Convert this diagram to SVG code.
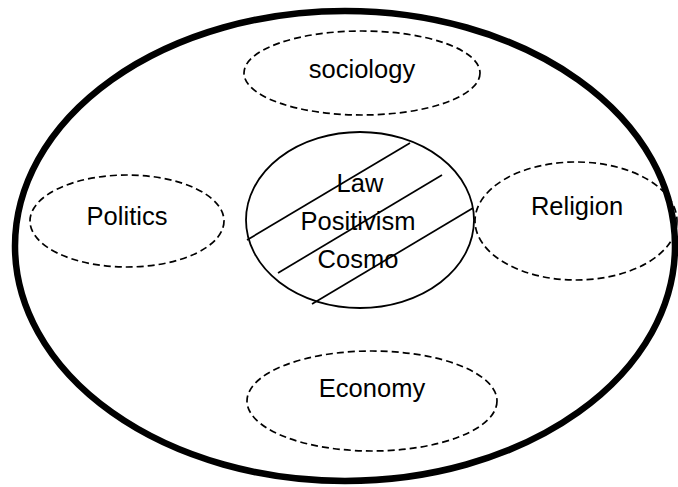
<svg xmlns="http://www.w3.org/2000/svg" width="678" height="487" viewBox="0 0 678 487">
<style>
.dash{fill:none;stroke:#000;stroke-width:1.7;stroke-dasharray:7 4}
.t{font-family:"Liberation Sans",Arial,sans-serif;font-size:25.5px;fill:#000;text-anchor:middle}
.ln{stroke:#000;stroke-width:1.7}
</style>
<rect width="678" height="487" fill="#fff"/>
<g id="outer"><ellipse cx="345" cy="246" rx="330" ry="235" fill="none" stroke="#000" stroke-width="6.5"/></g>
<g id="sociology"><ellipse class="dash" cx="362" cy="73" rx="118" ry="42"/><text class="t" x="362" y="78">sociology</text></g>
<g id="politics"><ellipse class="dash" cx="127" cy="221" rx="97" ry="46"/><text class="t" x="127" y="225">Politics</text></g>
<g id="religion"><ellipse class="dash" cx="576" cy="221" rx="101" ry="59"/><text class="t" x="577" y="215">Religion</text></g>
<g id="economy"><ellipse class="dash" cx="372" cy="401" rx="125" ry="50"/><text class="t" x="372" y="397">Economy</text></g>
<g id="center">
<ellipse cx="360" cy="220" rx="114" ry="88" fill="none" stroke="#000" stroke-width="1.8"/>
<text class="t" x="360" y="192">Law</text>
<text class="t" x="358" y="230">Positivism</text>
<text class="t" x="358" y="268">Cosmo</text>
</g>
<g id="connectors">
<line class="ln" x1="247" y1="240" x2="410" y2="143"/>
<line class="ln" x1="278" y1="273" x2="442" y2="175"/>
<line class="ln" x1="312" y1="304" x2="473" y2="208"/>
</g>
</svg>
